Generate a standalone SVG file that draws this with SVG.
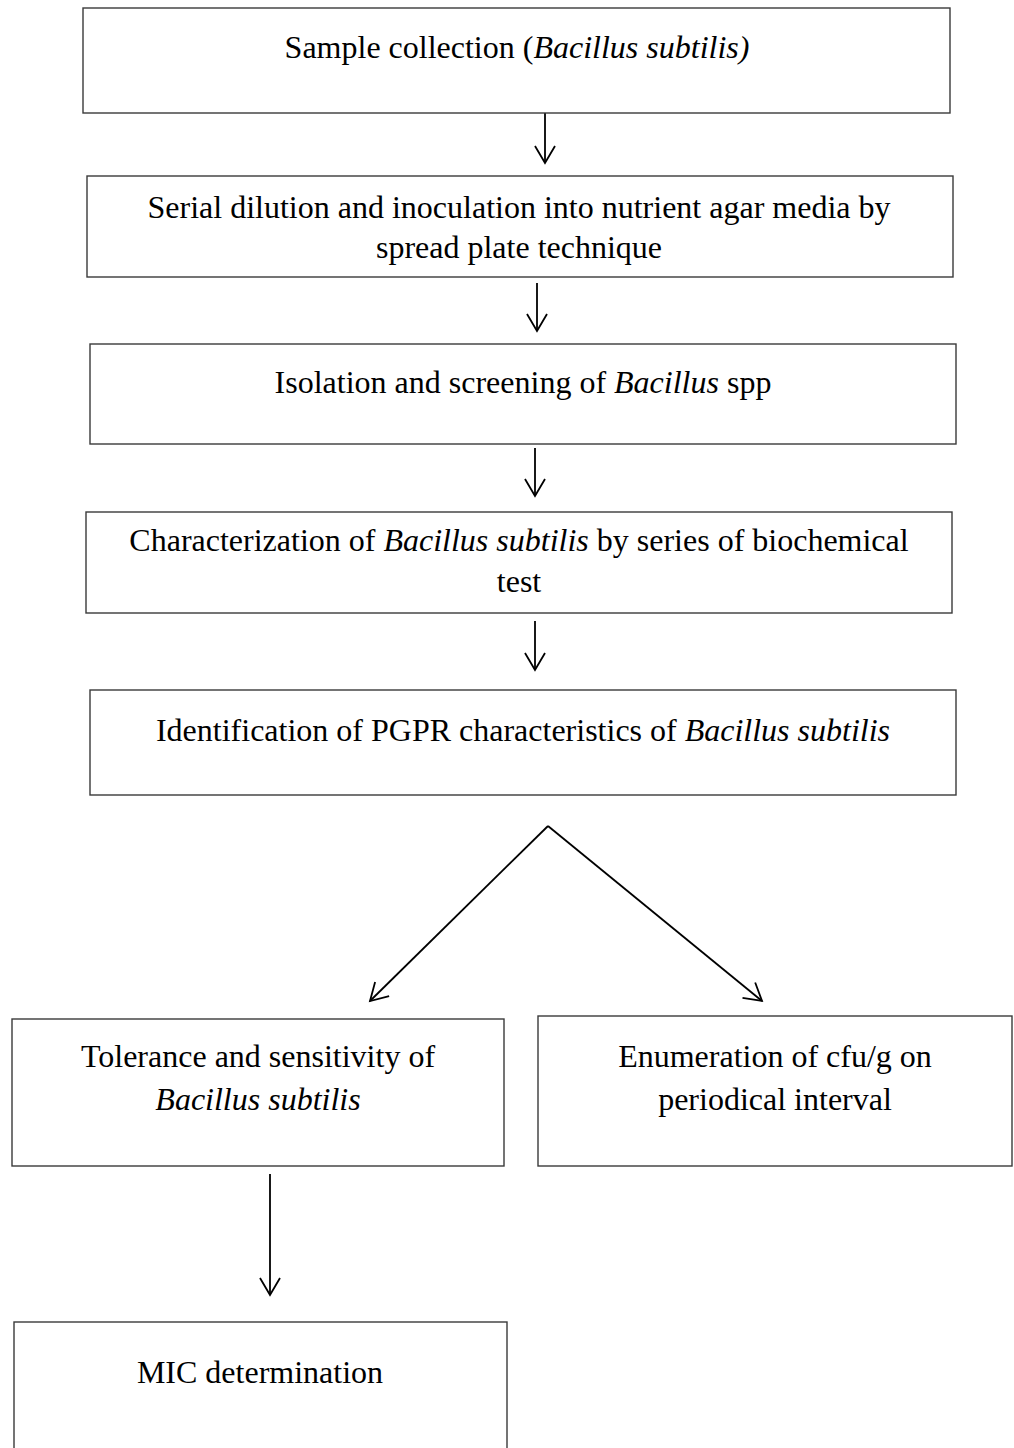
<svg xmlns="http://www.w3.org/2000/svg" width="1014" height="1448" viewBox="0 0 1014 1448">
<style>
.box{fill:#fff;stroke:#3a3a3a;stroke-width:1.4}
.t{font-family:"Liberation Serif","Times New Roman",serif;font-size:32px;fill:#000;text-anchor:middle}
.i{font-style:italic}
.c{fill:none;stroke:#000;stroke-width:1.8}
</style>
<defs>
<marker id="ah" markerUnits="userSpaceOnUse" markerWidth="40" markerHeight="40" viewBox="-20 -20 40 40" refX="0" refY="0" orient="auto">
<path d="M-17,-10 L0,0 L-17,10" fill="none" stroke="#000" stroke-width="1.8"/>
</marker>
</defs>
<rect width="1014" height="1448" fill="#fff"/>
<g id="connectors">
<line class="c" x1="545" y1="113" x2="545" y2="163" marker-end="url(#ah)"/>
<line class="c" x1="537" y1="283" x2="537" y2="331" marker-end="url(#ah)"/>
<line class="c" x1="535" y1="448" x2="535" y2="496" marker-end="url(#ah)"/>
<line class="c" x1="535" y1="621" x2="535" y2="670" marker-end="url(#ah)"/>
<line class="c" x1="548" y1="826" x2="370" y2="1001" marker-end="url(#ah)"/>
<line class="c" x1="548" y1="826" x2="762" y2="1001" marker-end="url(#ah)"/>
<line class="c" x1="270" y1="1174" x2="270" y2="1295" marker-end="url(#ah)"/>
</g>
<g id="n1">
<rect class="box" x="83" y="8" width="867" height="105"/>
<text class="t" x="517" y="58">Sample collection (<tspan class="i">Bacillus subtilis)</tspan></text>
</g>
<g id="n2">
<rect class="box" x="87" y="176" width="866" height="101"/>
<text class="t" x="519" y="218">Serial dilution and inoculation into nutrient agar media by</text>
<text class="t" x="519" y="258">spread plate technique</text>
</g>
<g id="n3">
<rect class="box" x="90" y="344" width="866" height="100"/>
<text class="t" x="523" y="393">Isolation and screening of <tspan class="i">Bacillus</tspan> spp</text>
</g>
<g id="n4">
<rect class="box" x="86" y="512" width="866" height="101"/>
<text class="t" x="519" y="551">Characterization of <tspan class="i">Bacillus subtilis</tspan> by series of biochemical</text>
<text class="t" x="519" y="592">test</text>
</g>
<g id="n5">
<rect class="box" x="90" y="690" width="866" height="105"/>
<text class="t" x="523" y="741">Identification of PGPR characteristics of <tspan class="i">Bacillus subtilis</tspan></text>
</g>
<g id="n6">
<rect class="box" x="12" y="1019" width="492" height="147"/>
<text class="t" x="258" y="1067">Tolerance and sensitivity of</text>
<text class="t i" x="258" y="1110">Bacillus subtilis</text>
</g>
<g id="n7">
<rect class="box" x="538" y="1016" width="474" height="150"/>
<text class="t" x="775" y="1067">Enumeration of cfu/g on</text>
<text class="t" x="775" y="1110">periodical interval</text>
</g>
<g id="n8">
<rect class="box" x="14" y="1322" width="493" height="140"/>
<text class="t" x="260" y="1383">MIC determination</text>
</g>
</svg>
